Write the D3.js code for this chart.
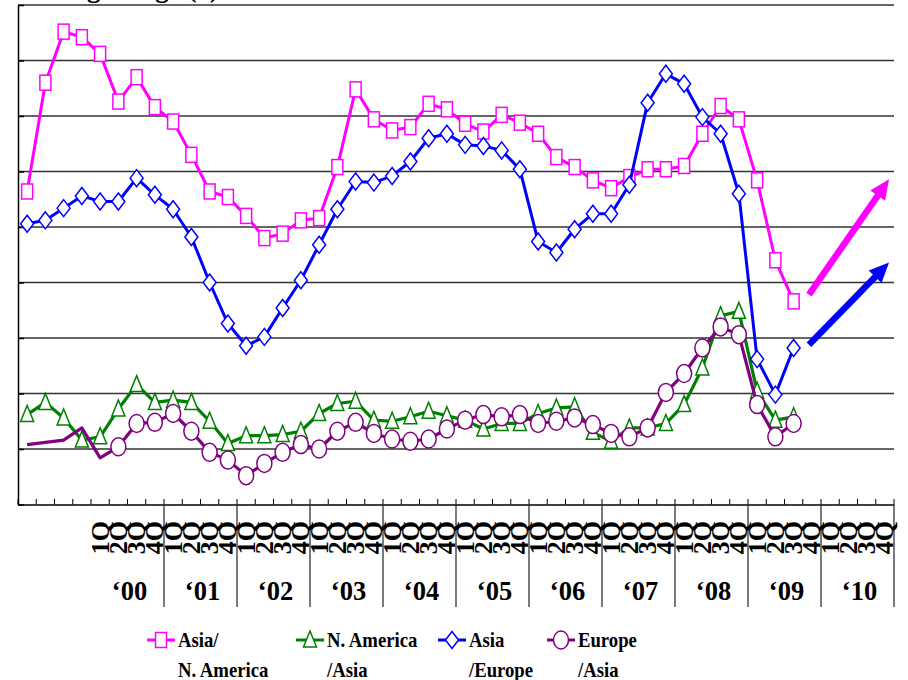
<!DOCTYPE html>
<html><head><meta charset="utf-8">
<script src="https://cdn.jsdelivr.net/npm/d3@7"></script>
<style>body{margin:0;background:#fff} svg{display:block}</style>
</head><body>
<svg id="c" width="908" height="680"></svg>
<script>
// ---------- data ----------
const years = ["1999","2000","2001","2002","2003","2004","2005","2006","2007","2008","2009","2010"];
const yearLabels = ["", "\u201800", "\u201801", "\u201802", "\u201803", "\u201804", "\u201805", "\u201806", "\u201807", "\u201808", "\u201809", "\u201810"];
const quarterNames = ["1Q","2Q","3Q","4Q"];
const yTicks = [0,5,10,15,20,25,30,35,40,45];
const titleText = "Trading Range (x)";

const asiaNA = [28.2,38.0,42.6,42.1,40.6,36.3,38.5,35.8,34.5,31.5,28.2,27.7,26.0,24.0,24.4,25.6,
  25.8,30.4,37.4,34.7,33.7,34.0,36.1,35.6,34.3,33.6,35.1,34.4,33.4,31.3,30.4,29.2,
  28.5,29.5,30.2,30.2,30.5,33.4,35.9,34.7,29.2,22.0,18.3,null,null,null,null,null];
const naAsia = [8.1,9.2,7.8,5.8,6.1,8.6,10.8,9.2,9.4,9.2,7.5,5.5,6.2,6.2,6.3,6.6,
  8.2,9.1,9.3,7.6,7.5,7.9,8.4,8.0,7.6,6.8,7.3,7.3,8.2,8.7,8.8,6.5,
  5.7,6.9,6.9,7.3,9.0,12.3,17.0,17.4,10.2,7.6,7.9,null,null,null,null,null];
const asiaEurope = [25.3,25.6,26.7,27.8,27.3,27.3,29.4,27.9,26.6,24.1,20.0,16.3,14.3,15.1,17.7,20.2,
  23.4,26.6,29.1,29.0,29.6,30.9,33.0,33.4,32.4,32.3,31.9,30.2,23.7,22.7,24.8,26.2,
  26.2,28.8,36.2,38.8,37.9,34.9,33.4,28.0,13.1,9.9,14.1,null,null,null,null,null];
const europeAsia = [5.4,5.6,5.8,6.9,4.2,5.2,7.3,7.4,8.2,6.6,4.7,4.0,2.6,3.7,4.7,5.4,
  5.0,6.6,7.4,6.4,5.9,5.7,5.9,6.8,7.6,8.1,7.9,8.1,7.3,7.5,7.8,7.2,
  6.4,6.1,6.9,10.1,11.8,14.1,16.0,15.3,9.0,6.1,7.3,null,null,null,null,null];

// trend arrows (category index, value)
const arrowsData = [
  {from:[42.84,18.9], to:[47.23,29.3], color:"#FF00FF"},
  {from:[42.84,14.4], to:[47.23,21.8], color:"#0000FF"}
];

// ---------- setup ----------
const FONT = "'Liberation Serif','Times New Roman',serif";
const svg = d3.select("#c");
const cats = years.flatMap(y => quarterNames.map(q => y + " " + q));
const x = d3.scaleBand().domain(cats).range([18, 894]).padding(0);
const y = d3.scaleLinear().domain([0, 45]).range([504.5, 5]);
const bw = x.bandwidth();
const xc = i => x(cats[i]) + bw / 2;
const xi = d3.scaleLinear().domain([-0.5, cats.length - 0.5]).range(x.range());

// title (mostly clipped at the top, as in the source)
svg.append("text").attr("x", 8).attr("y", -3)
  .attr("font-family", FONT).attr("font-weight", "bold").attr("font-size", 27)
  .text(titleText);

// gridlines
svg.append("g").selectAll("line").data(yTicks.filter(t => t > 0)).join("line")
  .attr("x1", 18).attr("x2", 894)
  .attr("y1", d => y(d)).attr("y2", d => y(d))
  .attr("stroke", "#333").attr("stroke-width", 1.3);

// left axis (inner ticks)
const gl = svg.append("g").attr("transform", "translate(18,0)")
  .call(d3.axisLeft(y).tickValues(yTicks).tickSize(-6).tickSizeOuter(0).tickFormat(""));
gl.selectAll("path,line").attr("stroke", "#000").attr("stroke-width", 1.5);

// bottom axis
const gb = svg.append("g").attr("transform", "translate(0,504.5)")
  .call(d3.axisBottom(x).tickSize(0).tickSizeOuter(0).tickFormat(""));
gb.select("path").attr("stroke", "#000").attr("stroke-width", 1.5);
const bounds = cats.map(c => x(c)).concat([x.range()[1]]);
svg.append("g").selectAll("line").data(bounds).join("line")
  .attr("x1", d => d).attr("x2", d => d).attr("y1", 504.5).attr("y2", 499)
  .attr("stroke", "#000").attr("stroke-width", 1);

// year separators
const sepX = years.slice(2).map(yr => x(yr + " 1Q")).concat([x.range()[1]]);
svg.append("g").selectAll("line").data(sepX).join("line")
  .attr("x1", d => d).attr("x2", d => d).attr("y1", 504.5).attr("y2", 607)
  .attr("stroke", "#333").attr("stroke-width", 1.3);

// quarter labels
const qg = svg.append("g").attr("font-family", FONT).attr("font-weight", "bold").attr("font-size", 26);
cats.forEach((c, i) => {
  const yi = Math.floor(i / 4);
  if (!yearLabels[yi]) return;
  qg.append("text")
    .attr("transform", `translate(${xc(i)},521) rotate(-90)`)
    .attr("text-anchor", "end").attr("dy", "0.33em")
    .text(quarterNames[i % 4]);
});

// year labels
svg.append("g").selectAll("text").data(years.map((yr, k) => ({yr, k})).filter(d => yearLabels[d.k])).join("text")
  .attr("x", d => x(d.yr + " 1Q") + 2 * bw + 2).attr("y", 600)
  .attr("text-anchor", "middle")
  .attr("font-family", FONT).attr("font-weight", "bold").attr("font-size", 26.5)
  .text(d => yearLabels[d.k]);

// ---------- series ----------
const markerFns = {
  square: g => g.append("rect").attr("x", -5.5).attr("y", -7.5).attr("width", 11).attr("height", 15),
  triangle: g => g.append("polygon").attr("points", "0,-9 6.5,7 -6.5,7"),
  diamond: g => g.append("polygon").attr("points", "0,-8.5 6.5,0 0,8.5 -6.5,0"),
  circle: g => g.append("ellipse").attr("rx", 7.5).attr("ry", 9)
};
const series = [
  {name:["Asia/","N. America"], values: asiaNA, color:"#FF00FF", marker:"square", lw:3, start:0, lx:147},
  {name:["N. America","/Asia"], values: naAsia, color:"#008000", marker:"triangle", lw:3.2, start:0, lx:296},
  {name:["Asia","/Europe"], values: asiaEurope, color:"#0000FF", marker:"diamond", lw:3, start:0, lx:438},
  {name:["Europe","/Asia"], values: europeAsia, color:"#800080", marker:"circle", lw:3.2, start:5, lx:547}
];

const line = d3.line().defined(d => d.v != null).x(d => xc(d.i)).y(d => y(d.v));
series.forEach(s => {
  const pts = s.values.map((v, i) => ({v, i}));
  svg.append("path").datum(pts).attr("d", line)
    .attr("fill", "none").attr("stroke", s.color).attr("stroke-width", s.lw)
    .attr("stroke-linejoin", "round");
  const mg = svg.append("g");
  pts.filter(d => d.v != null && d.i >= s.start).forEach(d => {
    const g = mg.append("g").attr("transform", `translate(${xc(d.i)},${y(d.v)})`);
    markerFns[s.marker](g).attr("fill", "#fff").attr("stroke", s.color).attr("stroke-width", 1.5);
  });
});

// arrows
arrowsData.forEach(a => {
  const x1 = xi(a.from[0]), y1 = y(a.from[1]), x2 = xi(a.to[0]), y2 = y(a.to[1]);
  const dx = x2 - x1, dy = y2 - y1, L = Math.hypot(dx, dy);
  const ux = dx / L, uy = dy / L, px = -uy, py = ux;
  const hl = 20, hw = 9;
  const bx = x2 - ux * hl, by = y2 - uy * hl;
  svg.append("line").attr("x1", x1).attr("y1", y1).attr("x2", bx + ux * 2).attr("y2", by + uy * 2)
    .attr("stroke", a.color).attr("stroke-width", 6.5);
  svg.append("polygon")
    .attr("points", [[x2, y2], [bx + px * hw, by + py * hw], [bx - px * hw, by - py * hw]].map(p => p.join(",")).join(" "))
    .attr("fill", a.color);
});

// ---------- legend ----------
const lg = svg.append("g");
series.forEach(s => {
  const g = lg.append("g");
  g.append("line").attr("x1", s.lx).attr("x2", s.lx + 28).attr("y1", 640).attr("y2", 640)
    .attr("stroke", s.color).attr("stroke-width", 3);
  const mk = g.append("g").attr("transform", `translate(${s.lx + 14},640)`);
  markerFns[s.marker](mk).attr("fill", "#fff").attr("stroke", s.color).attr("stroke-width", 1.5);
  s.name.forEach((t, r) => {
    g.append("text").attr("transform", `translate(${s.lx + 31},${647 + r * 30}) scale(0.87,1)`)
      .attr("font-family", FONT).attr("font-weight", "bold").attr("font-size", 21.5)
      .text(t);
  });
});
</script>
</body></html>
